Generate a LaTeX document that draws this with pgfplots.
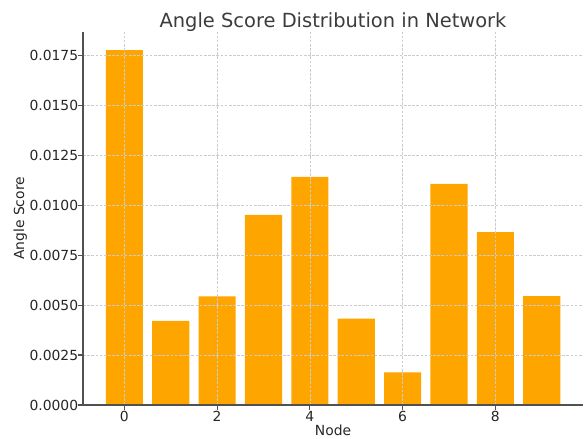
\documentclass[border=0pt]{standalone}
\usepackage{fontspec}
\setmainfont{DejaVu Sans}
\usepackage{pgfplots}
\pgfplotsset{compat=1.18}
\definecolor{barorange}{HTML}{FFA500}
\definecolor{txt}{HTML}{262626}
\definecolor{gridc}{HTML}{CCCCCC}

\begin{document}
\begin{tikzpicture}
\begin{axis}[
    scale only axis,
    width=360pt, height=268.6pt,
    xmin=-0.89, xmax=9.89,
    ymin=0, ymax=0.01867,
    xtick={0,2,4,6,8},
    ytick={0,0.0025,0.005,0.0075,0.01,0.0125,0.015,0.0175},
    yticklabel style={xshift=3.5pt, /pgf/number format/.cd,fixed,fixed zerofill,precision=4,assume math mode=true},
    xticklabel style={yshift=2.5pt, /pgf/number format/assume math mode=true},
    scaled y ticks=false,
    tick label style={font=\fontsize{10}{12}\selectfont, text=txt},
    label style={font=\fontsize{10}{12}\selectfont, text=txt},
    title style={font=\fontsize{14}{16}\selectfont, text=txt!90, yshift=-9.5pt},
    title={Angle Score Distribution in Network},
    xlabel={Node}, ylabel={Angle Score},
    xlabel style={yshift=3.5pt, inner sep=2pt},
    ylabel style={yshift=-5pt},
    axis x line*=bottom, axis y line*=left,
    axis line style={draw=txt!80, line width=0.8pt},
    tick style={draw=txt!80, line width=0.8pt},
    tick align=outside, major tick length=3.5pt,
    xmajorgrids, ymajorgrids,
    grid style={draw=gridc, dash pattern=on 2pt off 1pt, line width=0.4pt},
    axis on top,
    ybar, bar width=0.8,
]
\addplot[fill=barorange, draw=none, bar shift=0pt] coordinates {
(0,0.01776) (1,0.00421) (2,0.00543) (3,0.00952) (4,0.01142)
(5,0.00432) (6,0.00163) (7,0.01106) (8,0.00865) (9,0.00545)
};
\end{axis}
\pgfresetboundingbox
\path (current axis.south west) ++(-59.8pt,-23.8pt) rectangle ++(420.5pt,315.4pt);
\end{tikzpicture}
\end{document}
